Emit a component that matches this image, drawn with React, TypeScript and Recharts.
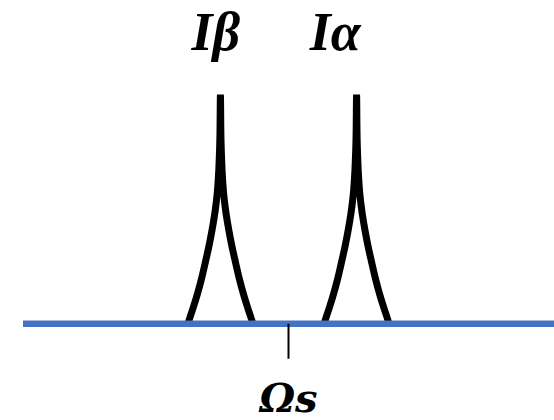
import React from 'react';
import { LineChart, Line, XAxis, YAxis, ReferenceDot } from 'recharts';

// Frequency offset (in units of half the line splitting) and relative intensity
const betaX = [-1.477, -1.441, -1.397, -1.338, -1.279, -1.22, -1.162, -1.11, -1.066, -1.037, -1.018, -1.006, -1.0, -0.994, -0.982, -0.963, -0.934, -0.89, -0.838, -0.78, -0.721, -0.662, -0.603, -0.559, -0.523];
const betaY = [0, 0.034, 0.073, 0.13, 0.195, 0.27, 0.348, 0.431, 0.518, 0.605, 0.714, 0.845, 1.0, 0.845, 0.714, 0.605, 0.518, 0.431, 0.348, 0.27, 0.195, 0.13, 0.073, 0.034, 0];
const alphaX = [0.523, 0.559, 0.603, 0.662, 0.721, 0.78, 0.838, 0.89, 0.934, 0.963, 0.982, 0.994, 1.0, 1.006, 1.018, 1.037, 1.066, 1.11, 1.162, 1.22, 1.279, 1.338, 1.397, 1.441, 1.477];
const alphaY = [0, 0.034, 0.073, 0.13, 0.195, 0.27, 0.348, 0.431, 0.518, 0.605, 0.714, 0.845, 1.0, 0.845, 0.714, 0.605, 0.518, 0.431, 0.348, 0.27, 0.195, 0.13, 0.073, 0.034, 0];

// Peak names and their positions
const peakNames = ['Iβ', 'Iα'];
const peakCenters = [-1, 1];
const peakHeights = [1, 1];

// Axis tick: the centre frequency
const tickValues = [0];
const tickNames = ['Ωs'];

const betaData = betaX.map((x, i) => ({ x, y: betaY[i] }));
const alphaData = alphaX.map((x, i) => ({ x, y: alphaY[i] }));

const serif = '"Liberation Serif", "DejaVu Serif", serif';
const wideSerif = '"DejaVu Serif", "Liberation Serif", serif';
const labelShift = [-4.5, -21.5];

const PeakLabel = (props: any) => {
  const { cx, cy, index } = props;
  return (
    <text
      x={cx + labelShift[index]}
      y={cy - 44.5}
      textAnchor="middle"
      fontFamily={serif}
      fontWeight="bold"
      fontStyle="italic"
      fontSize={54}
      fill="#000"
    >
      {peakNames[index]}
    </text>
  );
};

const CenterTick = (props: any) => {
  const { x, y, payload } = props;
  const i = tickValues.indexOf(payload.value);
  return (
    <text
      x={x}
      y={y + 53}
      textAnchor="middle"
      fontFamily={wideSerif}
      fontWeight="bold"
      fontStyle="italic"
      fontSize={40}
      fill="#000"
    >
      {tickNames[i]}
    </text>
  );
};

export default function App() {
  return (
    <div style={{ position: 'absolute', left: 0, top: 0, width: 554, height: 420, background: '#fff' }}>
      <LineChart width={554} height={420} margin={{ top: 94.5, right: 0, bottom: 0, left: 23 }}>
        <YAxis hide type="number" domain={[0, 1]} allowDataOverflow />
        <Line data={betaData} dataKey="y" type="monotoneX" stroke="#000" strokeWidth={7} dot={false} isAnimationActive={false} />
        <Line data={alphaData} dataKey="y" type="monotoneX" stroke="#000" strokeWidth={7} dot={false} isAnimationActive={false} />
        {peakCenters.map((c, i) => (
          <ReferenceDot
            key={peakNames[i]}
            x={c}
            y={peakHeights[i]}
            r={0}
            ifOverflow="visible"
            shape={(p: any) => <PeakLabel {...p} index={i} />}
          />
        ))}
        <XAxis
          type="number"
          dataKey="x"
          domain={[-3.9, 3.9]}
          allowDataOverflow
          ticks={tickValues}
          height={96.25}
          axisLine={{ stroke: '#4472C4', strokeWidth: 6.5 }}
          tickLine={{ stroke: '#000', strokeWidth: 2 }}
          tickSize={35}
          tickMargin={0}
          tick={<CenterTick />}
          interval={0}
        />
      </LineChart>
    </div>
  );
}
